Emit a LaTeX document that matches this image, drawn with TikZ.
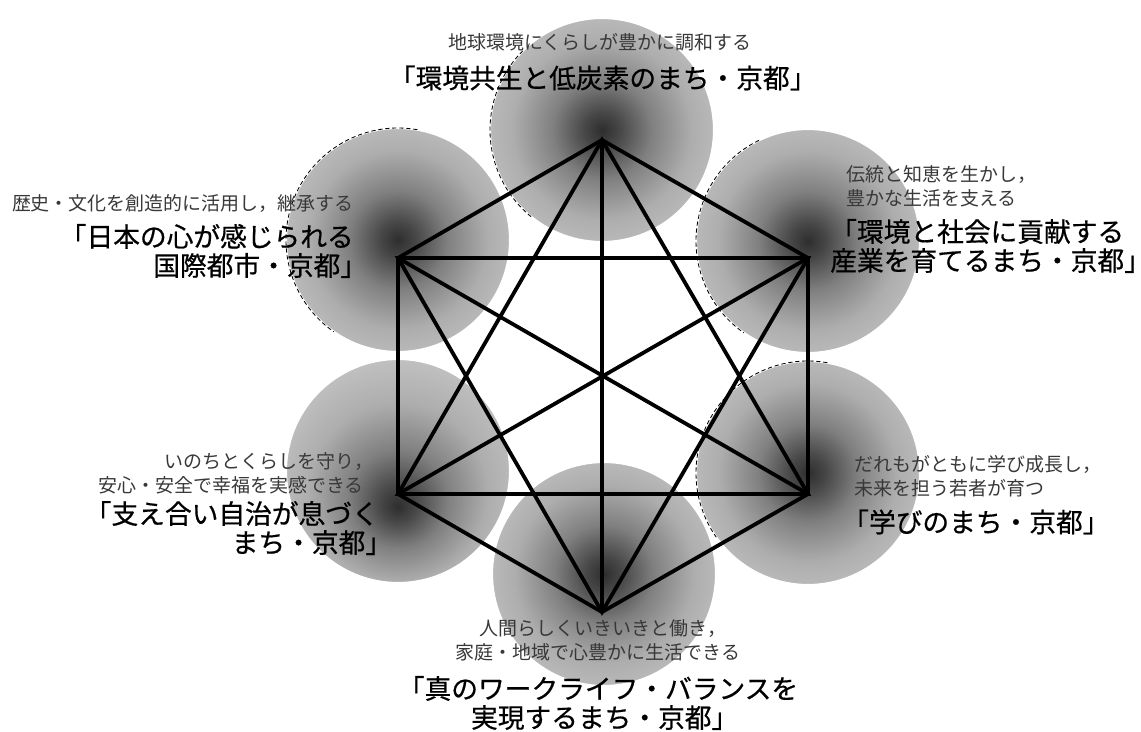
\documentclass[tikz,border=0pt]{standalone}
\usepackage{fontspec}
\setmainfont{Noto Sans CJK JP}
\newfontfamily\mottofont[FakeBold=0.6]{Noto Sans CJK JP}

% shading of the discs: dark centre, light grey rim
\pgfdeclareradialshading{spot}{\pgfpoint{0bp}{0bp}}{color(0bp)=(black!82); color(4bp)=(black!72); color(11bp)=(black!50); color(20bp)=(black!32); color(28bp)=(black!25); color(50bp)=(black!25)}
\pgfdeclareradialshading{spotlow}{\pgfpoint{0bp}{-8bp}}{color(0bp)=(black!82); color(4bp)=(black!72); color(11bp)=(black!50); color(20bp)=(black!32); color(28bp)=(black!25); color(50bp)=(black!25)}

% closing bracket and comma at line end, half width
\newcommand{\kakko}{\makebox[.5em][l]{」}}
\newcommand{\touten}{\makebox[.5em][l]{，}}

\begin{document}
\begin{tikzpicture}[x=0.025cm, y=-0.025cm,
  ball/.style={shading=spot, draw=white, line width=1.5pt},
  rim/.style={densely dashed, line width=0.6pt},
  edge/.style={line width=2.7pt, line join=miter},
  lead/.style={font=\fontsize{13.5}{17}\selectfont, text=black!78, inner sep=0pt},
  motto/.style={font=\mottofont\fontsize{19}{20.6}\selectfont, inner sep=0pt}]
\useasboundingbox (0,0) rectangle (1141,731);

% centres of the discs
\coordinate (cT) at (602,130);
\coordinate (cUR) at (808,241);
\coordinate (cLR) at (808,473);
\coordinate (cB) at (604,574);
\coordinate (cLL) at (398,471);
\coordinate (cUL) at (398,240);

% corners of the hexagon
\coordinate (T) at (602,140);
\coordinate (UR) at (808,258);
\coordinate (LR) at (808,494);
\coordinate (B) at (602,612);
\coordinate (LL) at (398,494);
\coordinate (UL) at (398,258);

\shadedraw[ball, shading=spotlow] (cLL) circle[radius=112];
\shadedraw[ball] (cB) circle[radius=112];
\shadedraw[ball] (cLR) circle[radius=112];
\shadedraw[ball] (cUR) circle[radius=112];
\shadedraw[ball] (cT) circle[radius=112];
\shadedraw[ball] (cUL) circle[radius=112];

% broken outlines
\draw[rim] (cT) ++(-135:112) arc[start angle=-135, end angle=-232, radius=112];
\draw[rim] (cUR) ++(-116:112) arc[start angle=-116, end angle=-235, radius=112];
\draw[rim] (cLR) ++(-80:112) arc[start angle=-80, end angle=-215, radius=112];
\draw[rim] (cUL) ++(-80:112) arc[start angle=-80, end angle=-235, radius=112];

% hexagon, two triangles, three diagonals
\draw[edge] (T) -- (UR) -- (LR) -- (B) -- (LL) -- (UL) -- cycle;
\draw[edge] (T) -- (LR) -- (LL) -- cycle;
\draw[edge] (B) -- (UL) -- (UR) -- cycle;
\draw[edge] (T) -- (B) (UL) -- (LR) (UR) -- (LL);

% top
\node[lead] (topS) at (600,42) {地球環境にくらしが豊かに調和する};
\node[motto] (topT) at (596,78) {「環境共生と低炭素のまち・京都\kakko};

% upper left
\node[lead, anchor=east] (ulS) at (354,203) {歴史・文化を創造的に活用し，継承する};
\node[motto, anchor=east, align=right] (ulT) at (354,251) {「日本の心が感じられる\\国際都市・京都\kakko};

% upper right
\node[lead, anchor=west, align=left] (urS) at (846,186) {伝統と知恵を生かし\touten\\豊かな生活を支える};
\node[motto, anchor=west, align=left] (urT) at (830,246) {「環境と社会に貢献する\\産業を育てるまち・京都\kakko};

% lower right
\node[lead, anchor=west, align=left] (lrS) at (854,476) {だれもがともに学び成長し\touten\\未来を担う若者が育つ};
\node[motto, anchor=west] (lrT) at (842,522) {「学びのまち・京都\kakko};

% lower left
\node[lead, anchor=east, align=right] (llS) at (364,473) {いのちとくらしを守り\touten\\安心・安全で幸福を実感できる};
\node[motto, anchor=east, align=right] (llT) at (379,528) {「支え合い自治が息づく\\まち・京都\kakko};

% bottom
\node[lead, align=center] (bS) at (598,640) {人間らしくいきいきと働き\touten\\家庭・地域で心豊かに生活できる};
\node[motto, align=center] (bT) at (598,703) {「真のワークライフ・バランスを\\実現するまち・京都\kakko};
\end{tikzpicture}
\end{document}
